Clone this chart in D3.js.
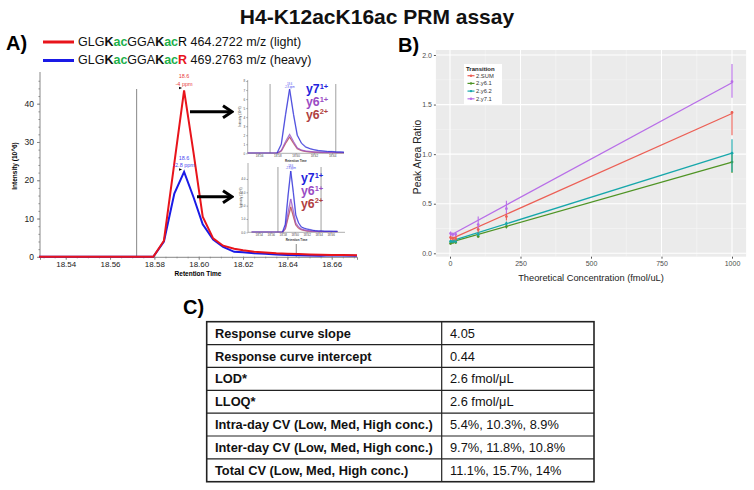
<!DOCTYPE html>
<html><head><meta charset="utf-8">
<script src="https://cdn.jsdelivr.net/npm/d3@7"></script>
<style>body{margin:0;background:#fff}svg{font-family:Arial,"Liberation Sans",sans-serif}</style>
</head><body><svg id="c" width="754" height="490"></svg>
<script>
// ---------- DATA ----------
// Panel A: extracted ion chromatogram (retention time, intensity x10^6)
const rtA = [18.528,18.5795,18.5843,18.5890,18.5934,18.5977,18.6018,18.6065,18.611,18.616,18.620,18.625,18.630,18.635,18.640,18.645,18.650,18.655,18.660,18.665,18.6714];
const lightA = [0,0,4.2,24.5,43.5,27,10.5,4.8,2.9,2.1,1.7,1.3,1.1,0.9,0.8,0.7,0.6,0.55,0.5,0.45,0.4];
const heavyA = [0,0,4.0,16.5,22.2,15.5,8.5,4.5,2.6,1.3,1.2,0.9,0.8,0.6,0.5,0.4,0.35,0.3,0.4,0.35,0.3];
const xTicksA = [18.54,18.56,18.58,18.60,18.62,18.64,18.66];
const yTicksA = [0,10,20,30,40];
const boundaryRT = [18.572,18.644];
// Inset fragment traces (same retention times)
const lightY7  = [0,0,1.0,4.3,7.1,4.3,2.0,1.1,0.7,0.5,0.4,0.3,0.25,0.2,0.2,0.15,0.15,0.1,0.1,0.1,0.1];
const lightY61 = [0,0,0.3,1.3,2.1,1.3,0.6,0.35,0.25,0.2,0.15,0.12,0.1,0.08,0.07,0.06,0.05,0.05,0.05,0.05,0.05];
const lightY62 = [0,0,0.25,1.1,1.8,1.1,0.5,0.3,0.2,0.15,0.12,0.1,0.08,0.07,0.06,0.05,0.05,0.04,0.04,0.04,0.04];
const heavyY7  = [0,0,0.6,2.8,4.6,3.0,1.3,0.7,0.4,0.3,0.25,0.2,0.15,0.12,0.1,0.1,0.08,0.08,0.08,0.07,0.07];
const heavyY61 = [0,0,0.3,1.5,2.5,1.6,0.7,0.4,0.25,0.18,0.14,0.1,0.08,0.07,0.06,0.05,0.05,0.05,0.05,0.05,0.05];
const heavyY62 = [0,0,0.25,1.1,1.9,1.2,0.55,0.3,0.2,0.14,0.1,0.08,0.07,0.06,0.05,0.05,0.04,0.04,0.04,0.04,0.04];
const insetXTicks1 = [18.56,18.58,18.60,18.62,18.64];
const insetXTicks2 = [18.54,18.56,18.58,18.60,18.62,18.64,18.66];
const insetYTicks1 = [0,1,2,3,4,5,6,7,8];
const insetYTicks2 = [0,1,2,3,4];

// Panel B: response curves
const concB = [2,10,20,100,200,1000];
const transitions = ["2.SUM","2.y6.1","2.y6.2","2.y7.1"];
const meanSUM = [0.16,0.15,0.15,0.24,0.37,1.42];
const meanY61 = [0.10,0.11,0.11,0.17,0.27,0.92];
const meanY62 = [0.12,0.12,0.12,0.19,0.30,1.01];
const meanY71 = [0.20,0.19,0.19,0.29,0.45,1.73];
const lowSUM = [0.14,0.13,0.13,0.21,0.33,1.19];
const highSUM = [0.18,0.17,0.17,0.27,0.41,1.43];
const lowY61 = [0.09,0.10,0.10,0.16,0.25,0.81];
const highY61 = [0.11,0.12,0.12,0.18,0.29,1.00];
const lowY62 = [0.11,0.11,0.11,0.18,0.28,0.82];
const highY62 = [0.13,0.13,0.13,0.20,0.32,1.15];
const lowY71 = [0.18,0.17,0.17,0.25,0.40,1.57];
const highY71 = [0.22,0.21,0.21,0.37,0.53,1.91];
const fitIntercept = [0.14,0.11,0.12,0.18];
const fitSlope = [0.00127,0.00081,0.00089,0.00154];
const xTicksB = [0,250,500,750,1000];
const yTicksB = [0,0.5,1.0,1.5,2.0];

// Panel C: table
const tableLabels = ["Response curve slope","Response curve intercept","LOD*","LLOQ*","Intra-day CV (Low, Med, High conc.)","Inter-day CV (Low, Med, High conc.)","Total CV (Low, Med, High conc.)"];
const tableValues = ["4.05","0.44","2.6 fmol/\u03bcL","2.6 fmol/\u03bcL","5.4%, 10.3%, 8.9%","9.7%, 11.8%, 10.8%","11.1%, 15.7%, 14%"];

// ---------- DRAW ----------
const svg = d3.select("#c");
svg.append("rect").attr("width",754).attr("height",490).attr("fill","#fff");

svg.append("text").attr("x",377).attr("y",24).attr("text-anchor","middle")
  .attr("font-size",21).attr("font-weight","bold").attr("fill","#111").text("H4-K12acK16ac PRM assay");
svg.append("text").attr("x",6).attr("y",50).attr("font-size",20).attr("font-weight","bold").text("A)");
svg.append("text").attr("x",398).attr("y",52).attr("font-size",20).attr("font-weight","bold").text("B)");
svg.append("text").attr("x",183).attr("y",314).attr("font-size",20).attr("font-weight","bold").text("C)");

// ---- Panel A legend
const legA = [{c:"#e8141b", txt:" 464.2722 m/z (light)", lastR:"#000", y:45.5, ly:42},
              {c:"#1a1ae6", txt:" 469.2763 m/z (heavy)", lastR:"#e8141b", y:64, ly:60.5}];
legA.forEach(d=>{
  svg.append("line").attr("x1",43).attr("x2",74).attr("y1",d.ly).attr("y2",d.ly).attr("stroke",d.c).attr("stroke-width",3);
  const t = svg.append("text").attr("x",78).attr("y",d.y).attr("font-size",12.5).attr("fill","#111");
  t.append("tspan").text("GLG");
  t.append("tspan").attr("font-weight","bold").text("K");
  t.append("tspan").attr("font-weight","bold").attr("fill","#22b04b").text("ac");
  t.append("tspan").text("GGA");
  t.append("tspan").attr("font-weight","bold").text("K");
  t.append("tspan").attr("font-weight","bold").attr("fill","#22b04b").text("ac");
  t.append("tspan").attr("fill",d.lastR).attr("font-weight",d.lastR==="#000"?"normal":"bold").text("R");
  t.append("tspan").text(d.txt);
});

// ---- Panel A main chart
const xA = d3.scaleLinear().domain([18.5284,18.6714]).range([40,357]);
const yA = d3.scaleLinear().domain([0,40]).range([256.8,103.7]);
const gA = svg.append("g");
boundaryRT.forEach((b,i)=>{
  gA.append("line").attr("x1",xA(b)).attr("x2",xA(b)).attr("y1",i===0?89:120).attr("y2",yA(0))
    .attr("stroke","#888").attr("stroke-width",1);
});
const axA = gA.append("g").attr("transform",`translate(0,${yA(0)})`)
  .call(d3.axisBottom(xA).tickValues(xTicksA).tickFormat(d3.format(".2f")).tickSize(3).tickPadding(2));
axA.selectAll("text").attr("font-size",8).attr("fill","#222");
const minorX = d3.range(18.530,18.671,0.005);
gA.append("g").attr("transform",`translate(0,${yA(0)})`).call(d3.axisBottom(xA).tickValues(minorX).tickFormat("").tickSize(1.5))
  .select(".domain").remove();
const ayA = gA.append("g").attr("transform",`translate(40,0)`)
  .call(d3.axisLeft(yA).tickValues(yTicksA).tickSize(3));
ayA.select(".domain").attr("d",`M0,${yA(0)}V72`);
ayA.selectAll("text").attr("font-size",8.5).attr("fill","#222");
gA.append("g").attr("transform",`translate(40,0)`).call(d3.axisLeft(yA).tickValues(d3.range(0,48,2)).tickFormat("").tickSize(1.5))
  .select(".domain").remove();
gA.selectAll(".domain,.tick line").attr("stroke","#888");
gA.append("text").attr("x",198).attr("y",276).attr("text-anchor","middle").attr("font-size",6.5).attr("font-weight","bold").text("Retention Time");
gA.append("text").attr("transform","translate(17,166) rotate(-90)").attr("text-anchor","middle").attr("font-size",6.5).attr("font-weight","bold").text("Intensity (10^6)");

const lineA = d3.line().x((d,i)=>xA(rtA[i])).y(d=>yA(d));
gA.append("path").attr("d",lineA(heavyA)).attr("fill","none").attr("stroke","#1a1ae6").attr("stroke-width",2);
gA.append("path").attr("d",lineA(lightA)).attr("fill","none").attr("stroke","#e8141b").attr("stroke-width",2);

// peak annotations
const pkL = d3.maxIndex(lightA), pkH = d3.maxIndex(heavyA);
[[pkL,lightA,"#e84040","-4 ppm"],[pkH,heavyA,"#4a4af0","-2.8 ppm"]].forEach(([k,arr,c,ppm])=>{
  const px = xA(rtA[k]), py = yA(arr[k]);
  gA.append("text").attr("x",px).attr("y",py-12).attr("text-anchor","middle").attr("font-size",5.5).attr("fill",c).text("18.6");
  gA.append("text").attr("x",px).attr("y",py-4.5).attr("text-anchor","middle").attr("font-size",5.5).attr("fill",c).text(ppm);
  gA.append("path").attr("d",`M${px-5},${py-3.5}l3,1.2l-3,1.2z`).attr("fill","#000");
});

// arrows
function arrow(x1,x2,y){
  gA.append("line").attr("x1",x1).attr("x2",x2-1).attr("y1",y).attr("y2",y).attr("stroke","#000").attr("stroke-width",3);
  gA.append("path").attr("d",`M${x2-9},${y-6}L${x2},${y}L${x2-9},${y+6}`).attr("fill","none").attr("stroke","#000").attr("stroke-width",3);
}
arrow(190,232,111.7);
arrow(197,232,196.7);

// insets
gA.append("rect").attr("x",234).attr("y",72).attr("width",118).attr("height",172).attr("fill","#fff");
function inset(id,xd,xr,yd,yr,xt,yt,y7,y61,y62,labelPos,topY){
  const x = d3.scaleLinear().domain(xd).range(xr);
  const y = d3.scaleLinear().domain(yd).range(yr);
  const g = gA.append("g");
  g.append("clipPath").attr("id",id).append("rect").attr("x",xr[0]).attr("y",topY).attr("width",xr[1]-xr[0]).attr("height",yr[0]-topY);
  boundaryRT.forEach(b=>g.append("line").attr("x1",x(b)).attr("x2",x(b)).attr("y1",topY+4).attr("y2",yr[0]).attr("stroke","#888").attr("stroke-width",0.8));
  const ax = g.append("g").attr("transform",`translate(0,${yr[0]})`).call(d3.axisBottom(x).tickValues(xt).tickFormat(d3.format(".2f")).tickSize(1.5));
  ax.selectAll("text").attr("font-size",3).attr("fill","#444").attr("y",2).attr("dy","0.71em");
  ax.select(".domain").attr("d",`M${xr[0]},0H${xr[1]}`);
  const ay = g.append("g").attr("transform",`translate(${xr[0]},0)`).call(d3.axisLeft(y).tickValues(yt).tickSize(1.5));
  ay.selectAll("text").attr("font-size",3).attr("fill","#444").attr("x",-2.5);
  ay.select(".domain").attr("d",`M0,${yr[0]}V${topY}`);
  g.selectAll(".domain,.tick line").attr("stroke","#777").attr("stroke-width",0.6);
  g.append("text").attr("x",(xr[0]+xr[1])/2).attr("y",yr[0]+8.3).attr("text-anchor","middle").attr("font-size",3).attr("font-weight","bold").attr("fill","#333").text("Retention Time");
  g.append("text").attr("transform",`translate(${xr[0]-6.5},${(yr[0]+topY)/2}) rotate(-90)`).attr("text-anchor","middle").attr("font-size",3).attr("fill","#333").text("Intensity (10^6)");
  const ln = d3.line().x((d,i)=>x(rtA[i])).y(d=>y(d));
  const cg = g.append("g").attr("clip-path",`url(#${id})`);
  [[y62,"#b5484f"],[y61,"#9a55c8"],[y7,"#2d2dd8"]].forEach(([arr,c])=>{
    cg.append("path").attr("d",ln(arr)).attr("fill","none").attr("stroke",c).attr("stroke-width",1.6).attr("opacity",0.35);
    cg.append("path").attr("d",ln(arr)).attr("fill","none").attr("stroke",c).attr("stroke-width",0.8);
  });
  const k = d3.maxIndex(y7);
  g.append("text").attr("x",x(rtA[k])).attr("y",y(y7[k])-4.2).attr("text-anchor","middle").attr("font-size",2.6).attr("fill","#4a4af0").text("18.6");
  g.append("text").attr("x",x(rtA[k])).attr("y",y(y7[k])-1.6).attr("text-anchor","middle").attr("font-size",2.6).attr("fill","#4a4af0").text("-2.8 ppm");
  const labs = [["y7","1+","#2222dd"],["y6","1+","#9a4cc4"],["y6","2+","#b0403f"]];
  labs.forEach((l,i)=>{
    const t = g.append("text").attr("x",labelPos[0]).attr("y",labelPos[1]+i*12.8).attr("font-size",12.3).attr("font-weight","bold").attr("fill",l[2]);
    t.append("tspan").text(l[0]);
    t.append("tspan").attr("font-size",7.5).attr("dy",-4.3).text(l[1]);
  });
}
inset("clip1",[18.5475,18.653],[247.7,344],[0,8],[153.3,81],insetXTicks1,insetYTicks1,lightY7,lightY61,lightY62,[306,93],80);
inset("clip2",[18.522,18.684],[248,345],[0,5.2],[232.3,163],insetXTicks2,insetYTicks2,heavyY7,heavyY61,heavyY62,[301,182],163);

// ---- Panel B
const xB = d3.scaleLinear().domain([-50,1050]).range([435.9,746.1]);
const yB = d3.scaleLinear().domain([0,2]).range([253.3,55]);
const gB = svg.append("g");
const pTop = yB(2.05), pBot = yB(-0.034);
gB.append("rect").attr("x",xB(-50)).attr("y",pTop).attr("width",xB(1050)-xB(-50)).attr("height",pBot-pTop).attr("fill","#ebebeb");
[125,375,625,875].forEach(v=>gB.append("line").attr("x1",xB(v)).attr("x2",xB(v)).attr("y1",pTop).attr("y2",pBot).attr("stroke","#f7f7f7").attr("stroke-width",0.6));
[0.25,0.75,1.25,1.75].forEach(v=>gB.append("line").attr("y1",yB(v)).attr("y2",yB(v)).attr("x1",xB(-50)).attr("x2",xB(1050)).attr("stroke","#f7f7f7").attr("stroke-width",0.6));
xTicksB.forEach(v=>gB.append("line").attr("x1",xB(v)).attr("x2",xB(v)).attr("y1",pTop).attr("y2",pBot).attr("stroke","#fff").attr("stroke-width",1.1));
yTicksB.forEach(v=>gB.append("line").attr("y1",yB(v)).attr("y2",yB(v)).attr("x1",xB(-50)).attr("x2",xB(1050)).attr("stroke","#fff").attr("stroke-width",1.1));
const axB = gB.append("g").attr("transform",`translate(0,${pBot})`).call(d3.axisBottom(xB).tickValues(xTicksB).tickFormat(d3.format("d")).tickSize(2).tickPadding(2));
const ayB = gB.append("g").attr("transform",`translate(${xB(-50)},0)`).call(d3.axisLeft(yB).tickValues(yTicksB).tickFormat(d3.format(".1f")).tickSize(2).tickPadding(2));
[axB,ayB].forEach(a=>{a.select(".domain").remove();a.selectAll("text").attr("font-size",7).attr("fill","#4d4d4d");a.selectAll("line").attr("stroke","#555");});
gB.append("text").attr("x",591).attr("y",281).attr("text-anchor","middle").attr("font-size",9.3).attr("fill","#222").text("Theoretical Concentration (fmol/uL)");
gB.append("text").attr("transform","translate(421,157) rotate(-90)").attr("text-anchor","middle").attr("font-size",10.3).attr("fill","#222").text("Peak Area Ratio");

const colB = ["#ec5f55","#4f9424","#17a7ab","#b86ee8"];
const means = [meanSUM,meanY61,meanY62,meanY71];
const lows = [lowSUM,lowY61,lowY62,lowY71];
const highs = [highSUM,highY61,highY62,highY71];
[1,2,0,3].forEach(s=>{
  gB.append("line").attr("x1",xB(0)).attr("x2",xB(1000))
    .attr("y1",yB(fitIntercept[s])).attr("y2",yB(fitIntercept[s]+fitSlope[s]*1000))
    .attr("stroke",colB[s]).attr("stroke-width",1.3);
  concB.forEach((c,i)=>{
    gB.append("line").attr("x1",xB(c)).attr("x2",xB(c)).attr("y1",yB(lows[s][i])).attr("y2",yB(highs[s][i])).attr("stroke",colB[s]).attr("stroke-width",1.1);
    gB.append("circle").attr("cx",xB(c)).attr("cy",yB(means[s][i])).attr("r",1.4).attr("fill",colB[s]);
  });
});
// legend
const lg = gB.append("g");
lg.append("rect").attr("x",464).attr("y",64).attr("width",38).attr("height",40).attr("fill","#fff");
lg.append("text").attr("x",466).attr("y",71).attr("font-size",6).attr("font-weight","bold").attr("fill","#222").text("Transition");
transitions.forEach((t,i)=>{
  const yy = 77.5+i*7.7;
  lg.append("line").attr("x1",467.5).attr("x2",474.5).attr("y1",yy-1.8).attr("y2",yy-1.8).attr("stroke",colB[i]).attr("stroke-width",1.2);
  lg.append("circle").attr("cx",471).attr("cy",yy-1.8).attr("r",1.2).attr("fill",colB[i]);
  lg.append("text").attr("x",476).attr("y",yy).attr("font-size",5.8).attr("fill","#333").text(t);
});

// ---- Panel C table
const tx0 = 206.7, tx1 = 441.7, tx2 = 594, ty0 = 321.7, rowH = 22.86;
const gC = svg.append("g");
tableLabels.forEach((l,i)=>{
  const yy = ty0 + i*rowH;
  gC.append("text").attr("x",215).attr("y",yy+rowH/2+4.6).attr("font-size",12.8).attr("font-weight","bold").attr("fill","#111").text(l);
  gC.append("text").attr("x",450).attr("y",yy+rowH/2+4.6).attr("font-size",12.8).attr("fill","#111").text(tableValues[i]);
  if(i>0) gC.append("line").attr("x1",tx0).attr("x2",tx2).attr("y1",yy).attr("y2",yy).attr("stroke","#222").attr("stroke-width",1.2);
});
gC.append("rect").attr("x",tx0).attr("y",ty0).attr("width",tx2-tx0).attr("height",rowH*tableLabels.length).attr("fill","none").attr("stroke","#222").attr("stroke-width",1.6);
gC.append("line").attr("x1",tx1).attr("x2",tx1).attr("y1",ty0).attr("y2",ty0+rowH*tableLabels.length).attr("stroke","#222").attr("stroke-width",1.2);
</script></body></html>
